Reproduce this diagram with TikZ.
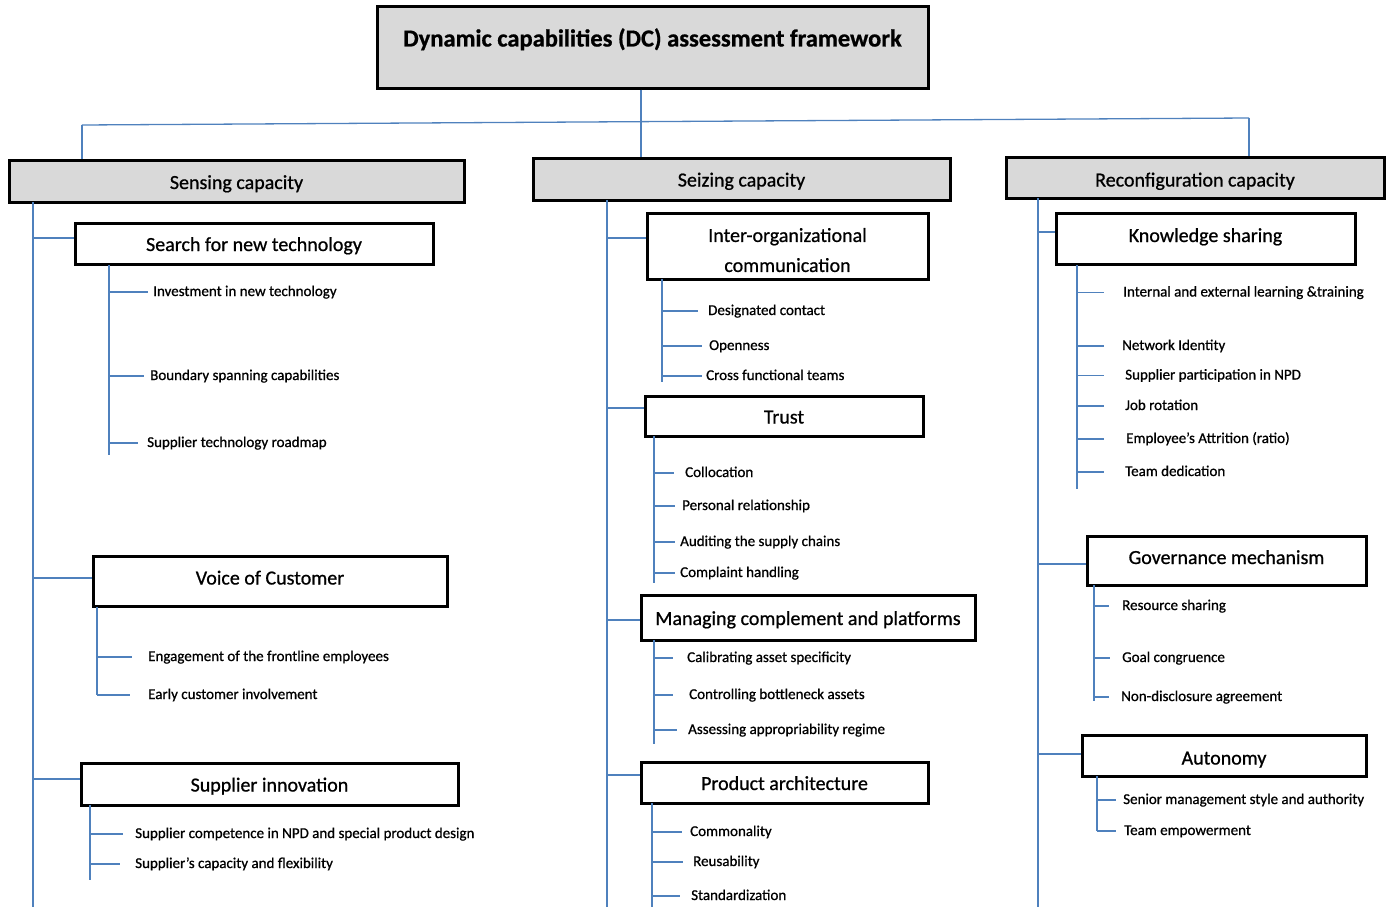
\documentclass[tikz,border=0pt]{standalone}
\usepackage{fontspec}
\setmainfont{Carlito}[RawFeature={embolden=0.8}]
\definecolor{linkblue}{HTML}{4F81BD}
\definecolor{boxgray}{HTML}{D9D9D9}
\tikzset{
  link/.style={draw=linkblue, line width=1.3pt},
  box/.style={draw=black, line width=3pt, inner sep=0pt, align=center, text height=15pt, text depth=0pt, font=\fontsize{20}{30}\selectfont},
  highbox/.style={box, text height=11pt, text depth=4pt},
  capbox/.style={box, fill=boxgray},
  leaf/.style={anchor=west, inner sep=0pt, text height=8pt, text depth=0pt, font=\fontsize{15}{18}\selectfont},
}
% spine, name, text position, tick length, text
\newcommand{\leaf}[5]{%
  \node[leaf] (#2) at (#3) {#5};
  \draw[link] (#1 |- #2.west) -- ++(#4,0);
}

\begin{document}
\begin{tikzpicture}[x=1pt,y=-1pt]
\useasboundingbox (0,0) rectangle (1389,907);

% top level
\node[capbox, minimum width=551pt, text height=39.5pt, text depth=41.5pt, font=\bfseries\fontsize{24.5}{28}\selectfont] (dc) at (652.5,47.5) {Dynamic capabilities (DC) assessment framework};
\node[capbox, minimum width=455pt, minimum height=42pt, text height=16pt] (sens) at (236.5,181) {Sensing capacity};
\node[capbox, minimum width=417pt, minimum height=42pt] (seiz) at (741.5,179) {Seizing capacity};
\node[capbox, minimum width=378pt, minimum height=41pt, text height=18pt] (reco) at (1195,177.5) {Reconfiguration capacity};

\coordinate (hubL) at (82,125);
\coordinate (hubR) at (1249,118);
\draw[link] (hubL) -- (hubR);
\draw[link] ([xshift=-11.5pt]dc.south) -- ([xshift=-11.5pt]dc.south |- seiz.north);
\draw[link] (hubL) -- (hubL |- sens.north);
\draw[link] (hubR) -- (hubR |- reco.north);

% trunks
\coordinate (tS) at (33,202);
\coordinate (tZ) at (607,200);
\coordinate (tR) at (1038,198);
\draw[link] (tS) -- (33,907);
\draw[link] (tZ) -- (607,907);
\draw[link] (tR) -- (1038,907);

% sensing
\node[box, minimum width=358pt, minimum height=41pt] (snt) at (254,243.5) {Search for new technology};
\node[highbox, minimum width=354pt, minimum height=50pt] (voc) at (270,581) {Voice of Customer};
\node[box, minimum width=377pt, minimum height=42pt] (sin) at (269.5,784) {Supplier innovation};
\foreach \b/\d in {snt/5.5,voc/3,sin/5}{
  \path ([yshift=\d pt]\b.west) coordinate (br);
  \draw[link] (tS |- br) -- (br);
}

\coordinate (s1) at (109,265);
\draw[link] (s1) -- ++(0,190);
\leaf{s1}{s1a}{153,292}{39}{Investment in new technology}
\leaf{s1}{s1b}{150,376}{35}{Boundary spanning capabilities}
\leaf{s1}{s1c}{147,443}{29}{Supplier technology roadmap}

\coordinate (s2) at (97,607);
\draw[link] (s2) -- ++(0,88);
\leaf{s2}{s2a}{148,657}{35}{Engagement of the frontline employees}
\leaf{s2}{s2b}{148,695}{33}{Early customer involvement}

\coordinate (s3) at (90,805);
\draw[link] (s3) -- ++(0,75);
\leaf{s3}{s3a}{135,834}{33}{Supplier competence in NPD and special product design}
\leaf{s3}{s3b}{135,864}{30}{Supplier’s capacity and flexibility}

% seizing
\node[draw=black, line width=3pt, inner sep=0pt, align=center, font=\fontsize{20}{30}\selectfont, minimum width=281pt, minimum height=66pt] (ioc) at (787.5,246) {\rule{0pt}{22pt}Inter-organizational\\communication};
\node[box, minimum width=278pt, minimum height=40pt] (tru) at (784,416) {Trust};
\node[box, minimum width=334pt, minimum height=45pt] (mcp) at (808,617.5) {Managing complement and platforms};
\node[box, minimum width=287pt, minimum height=41pt] (par) at (784.5,782.5) {Product architecture};
\foreach \b/\d in {ioc/8,tru/8,mcp/-2.5,par/7.5}{
  \path ([yshift=\d pt]\b.west) coordinate (br);
  \draw[link] (tZ |- br) -- (br);
}

\coordinate (z1) at (662,279);
\draw[link] (z1) -- ++(0,103);
\leaf{z1}{z1a}{708,311}{36}{Designated contact}
\leaf{z1}{z1b}{709,346}{40}{Openness}
\leaf{z1}{z1c}{706,376}{40}{Cross functional teams}

\coordinate (z2) at (654,436);
\draw[link] (z2) -- ++(0,147);
\leaf{z2}{z2a}{685,473}{20}{Collocation}
\leaf{z2}{z2b}{682,506}{21}{Personal relationship}
\leaf{z2}{z2c}{680,542}{21}{Auditing the supply chains}
\leaf{z2}{z2d}{680,573}{21}{Complaint handling}

\coordinate (z3) at (654,640);
\draw[link] (z3) -- ++(0,104);
\leaf{z3}{z3a}{687,658}{19}{Calibrating asset specificity}
\leaf{z3}{z3b}{689,695}{19}{Controlling bottleneck assets}
\leaf{z3}{z3c}{688,730}{23}{Assessing appropriability regime}

\coordinate (z4) at (652,803);
\draw[link] (z4) -- ++(0,104);
\leaf{z4}{z4a}{690,832}{30}{Commonality}
\leaf{z4}{z4b}{693,862}{31}{Reusability}
\leaf{z4}{z4c}{691,896}{28}{Standardization}

% reconfiguration
\node[highbox, minimum width=299pt, minimum height=51pt] (ksh) at (1205.5,238.5) {Knowledge sharing};
\node[highbox, minimum width=279pt, minimum height=49pt] (gov) at (1226.5,560.5) {Governance mechanism};
\node[box, minimum width=284pt, minimum height=41pt, text height=18pt] (aut) at (1224,755.5) {Autonomy};
\foreach \b/\d in {ksh/6.5,gov/-3.5,aut/1.5}{
  \path ([yshift=\d pt]\b.west) coordinate (br);
  \draw[link] (tR |- br) -- (br);
}

\coordinate (r1) at (1077,265);
\draw[link] (r1) -- ++(0,224);
\leaf{r1}{r1a}{1123,292.5}{27}{Internal and external learning \&training}
\leaf{r1}{r1b}{1122,346}{27}{Network Identity}
\leaf{r1}{r1c}{1125,375.5}{27}{Supplier participation in NPD}
\leaf{r1}{r1d}{1125,406}{27}{Job rotation}
\leaf{r1}{r1e}{1126,439}{27}{Employee’s Attrition (ratio)}
\leaf{r1}{r1f}{1125,472}{27}{Team dedication}

\coordinate (r2) at (1094,585);
\draw[link] (r2) -- ++(0,116);
\leaf{r2}{r2a}{1122,606}{15}{Resource sharing}
\leaf{r2}{r2b}{1122,658}{16}{Goal congruence}
\leaf{r2}{r2c}{1121,697}{15}{Non-disclosure agreement}

\coordinate (r3) at (1097,776);
\draw[link] (r3) -- ++(0,55);
\leaf{r3}{r3a}{1123,800}{19}{Senior management style and authority}
\leaf{r3}{r3b}{1124,831}{19}{Team empowerment}
\end{tikzpicture}
\end{document}
